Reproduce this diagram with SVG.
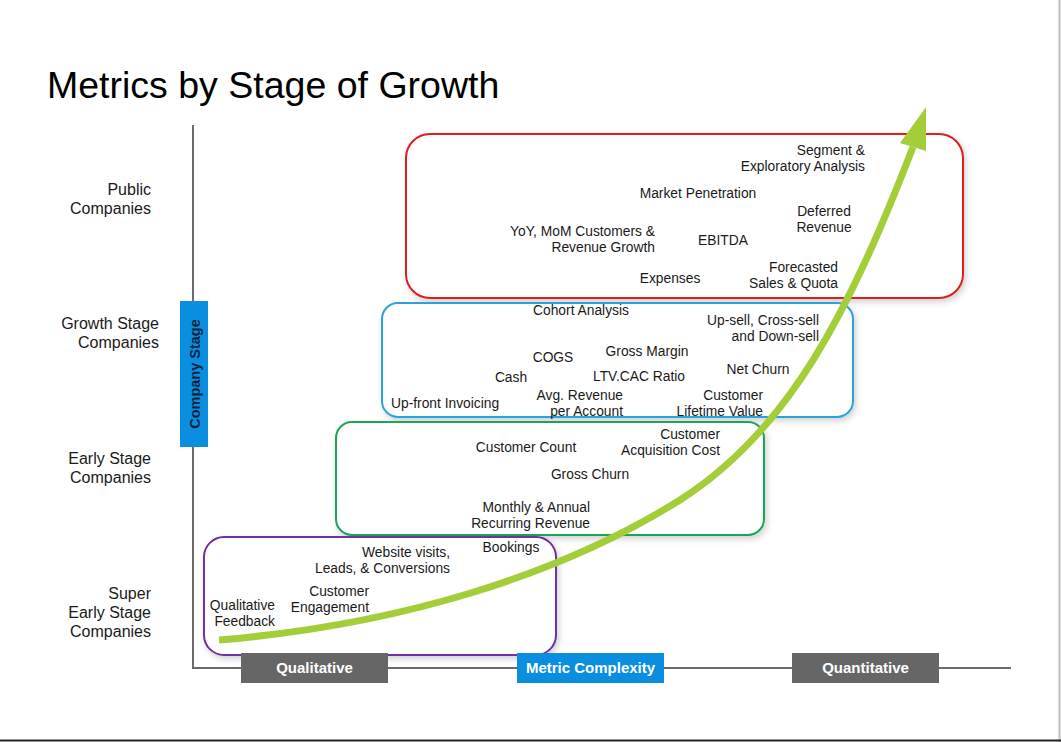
<svg xmlns="http://www.w3.org/2000/svg" width="1061" height="742" viewBox="0 0 1061 742">
<style>
.t{font-family:"Liberation Sans",Arial,sans-serif;font-size:13.8px;fill:#1a1a1a}
.s{font-family:"Liberation Sans",Arial,sans-serif;font-size:16px;fill:#1a1a1a;text-anchor:end}
.e{text-anchor:end}
.m{text-anchor:middle}
.box{fill:#fff;stroke-width:2;filter:url(#sh)}
.lbl{font-family:"Liberation Sans",Arial,sans-serif;font-size:15px;font-weight:bold;fill:#fff;text-anchor:middle}
.axis{stroke:#6b6b6b;stroke-width:2;fill:none}
</style>
<defs>
<filter id="sh" x="-5%" y="-5%" width="112%" height="120%">
<feDropShadow dx="2" dy="3" stdDeviation="3" flood-color="#000" flood-opacity="0.18"/>
</filter>
</defs>
<rect x="0" y="0" width="1061" height="742" fill="#fff"/>
<line x1="1059.5" y1="0" x2="1059.5" y2="742" stroke="#bdbdbd" stroke-width="2"/>
<line x1="0" y1="740.5" x2="1061" y2="740.5" stroke="#222" stroke-width="2"/>

<text id="title" x="47" y="98" font-family="Liberation Sans, Arial, sans-serif" font-size="37.5" fill="#000">Metrics by Stage of Growth</text>

<g id="connectors">
<path class="axis" d="M193,125 V668 H1011"/>
</g>

<g id="stage-labels">
<text class="s" x="151" y="195">Public</text>
<text class="s" x="151" y="214">Companies</text>
<text class="s" x="159" y="329">Growth Stage</text>
<text class="s" x="159" y="348">Companies</text>
<text class="s" x="151" y="464">Early Stage</text>
<text class="s" x="151" y="483">Companies</text>
<text class="s" x="151" y="599">Super</text>
<text class="s" x="151" y="618">Early Stage</text>
<text class="s" x="151" y="637">Companies</text>
</g>

<g id="company-stage">
<rect x="180" y="301" width="28" height="146" fill="#0a8ee0"/>
<text transform="translate(200,374) rotate(-90)" font-family="Liberation Sans, Arial, sans-serif" font-size="14.5" font-weight="bold" fill="#0c2340" text-anchor="middle">Company Stage</text>
</g>

<g id="public">
<rect class="box" x="406" y="134" width="557" height="164" rx="24" stroke="#e01b1b"/>
<text class="t e" x="865" y="155">Segment &amp;</text>
<text class="t e" x="865" y="171">Exploratory Analysis</text>
<text class="t m" x="698" y="198">Market Penetration</text>
<text class="t m" x="824" y="216">Deferred</text>
<text class="t m" x="824" y="232">Revenue</text>
<text class="t e" x="655" y="236">YoY, MoM Customers &amp;</text>
<text class="t e" x="655" y="252">Revenue Growth</text>
<text class="t m" x="723" y="245">EBITDA</text>
<text class="t m" x="670" y="283">Expenses</text>
<text class="t e" x="838" y="272">Forecasted</text>
<text class="t e" x="838" y="288">Sales &amp; Quota</text>
</g>

<g id="growth">
<rect class="box" x="382" y="303" width="471" height="114" rx="16" stroke="#2aa3dc"/>
<text class="t m" x="581" y="315">Cohort Analysis</text>
<text class="t e" x="819" y="325">Up-sell, Cross-sell</text>
<text class="t e" x="819" y="341">and Down-sell</text>
<text class="t m" x="647" y="356">Gross Margin</text>
<text class="t m" x="553" y="362">COGS</text>
<text class="t m" x="758" y="374">Net Churn</text>
<text class="t m" x="511" y="382">Cash</text>
<text class="t m" x="639" y="381">LTV.CAC Ratio</text>
<text class="t e" x="623" y="400">Avg. Revenue</text>
<text class="t e" x="623" y="416">per Account</text>
<text class="t e" x="763" y="400">Customer</text>
<text class="t e" x="763" y="416">Lifetime Value</text>
<text class="t" x="391" y="408">Up-front Invoicing</text>
</g>

<g id="early">
<rect class="box" x="336" y="422" width="428" height="113" rx="16" stroke="#1fa557"/>
<text class="t m" x="526" y="452">Customer Count</text>
<text class="t e" x="720" y="439">Customer</text>
<text class="t e" x="720" y="455">Acquisition Cost</text>
<text class="t m" x="590" y="479">Gross Churn</text>
<text class="t e" x="590" y="512">Monthly &amp; Annual</text>
<text class="t e" x="590" y="528">Recurring Revenue</text>
</g>

<g id="super-early">
<rect class="box" x="204" y="537" width="352" height="118" rx="20" stroke="#7030a0"/>
<text class="t m" x="511" y="552">Bookings</text>
<text class="t e" x="450" y="557">Website visits,</text>
<text class="t e" x="450" y="573">Leads, &amp; Conversions</text>
<text class="t e" x="369" y="596">Customer</text>
<text class="t e" x="369" y="612">Engagement</text>
<text class="t e" x="275" y="610">Qualitative</text>
<text class="t e" x="275" y="626">Feedback</text>
</g>

<g id="growth-arrow">
<path d="M219,640 C400,625 560,575 680,500 C790,430 850,310 913,147" fill="none" stroke="#a3cd39" stroke-width="7"/>
<polygon points="926,107 900,143 926,151" fill="#a3cd39"/>
</g>

<g id="qualitative">
<rect x="241" y="653" width="147" height="30" fill="#666"/>
<text class="lbl" x="314.5" y="673">Qualitative</text>
</g>
<g id="metric-complexity">
<rect x="517" y="653" width="147" height="30" fill="#0a8ee0"/>
<text class="lbl" x="590.5" y="673">Metric Complexity</text>
</g>
<g id="quantitative">
<rect x="792" y="653" width="147" height="30" fill="#666"/>
<text class="lbl" x="865.5" y="673">Quantitative</text>
</g>
</svg>
